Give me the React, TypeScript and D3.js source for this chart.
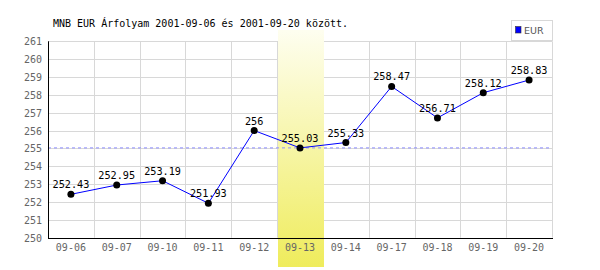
import React from "react";
import * as d3 from "d3";

const categories = ["09-06", "09-07", "09-10", "09-11", "09-12", "09-13", "09-14", "09-17", "09-18", "09-19", "09-20"];
const values = [252.43, 252.95, 253.19, 251.93, 256, 255.03, 255.33, 258.47, 256.71, 258.12, 258.83];
const labels = ["252.43", "252.95", "253.19", "251.93", "256", "255.03", "255.33", "258.47", "256.71", "258.12", "258.83"];
const yTicks = [250, 251, 252, 253, 254, 255, 256, 257, 258, 259, 260, 261];
const highlightIndex = 5;
const referenceValue = 255.03;
const title = "MNB EUR Árfolyam 2001-09-06 és 2001-09-20 között.";
const seriesName = "EUR";

export default function App() {
  const W = 600, H = 270;
  const left = 48, right = 552, top = 41.3, bottom = 237.7;
  const x = d3.scaleBand<string>().domain(categories).range([left, right]);
  const y = d3.scaleLinear().domain([250, 261]).range([bottom, top]);
  const cx = (c: string) => (x(c) as number) + x.bandwidth() / 2;
  const line = d3.line<number>().x((_, i) => cx(categories[i])).y((v) => y(v));
  const mono = "'DejaVu Sans Mono', monospace";
  const hx = x(categories[highlightIndex]) as number;

  return (
    <svg width={W} height={H} style={{ position: "absolute", left: 0, top: 0, background: "#fff" }}>
      <defs>
        <linearGradient id="hl" x1="0" y1="0" x2="0" y2="1">
          <stop offset="0" stopColor="#fefef0" />
          <stop offset="1" stopColor="#efec5c" />
        </linearGradient>
      </defs>
      <rect x={0} y={0} width={W} height={H} fill="#fff" />
      {/* grid */}
      {yTicks.map((t) => (
        <line key={"gy" + t} x1={left} x2={right} y1={Math.round(y(t)) + 0.5} y2={Math.round(y(t)) + 0.5} stroke="#d8d8d8" />
      ))}
      {categories.map((c) => (
        <line key={"gx" + c} x1={Math.round(x(c) as number) + 0.5} x2={Math.round(x(c) as number) + 0.5} y1={top} y2={bottom} stroke="#d8d8d8" />
      ))}
      <line x1={right + 0.5} x2={right + 0.5} y1={top} y2={bottom} stroke="#d8d8d8" />
      {/* highlight band */}
      <rect x={Math.round(hx) + 1} y={30} width={Math.round(x.bandwidth())} height={237} fill="url(#hl)" />
      {/* reference dashed */}
      <line x1={left} x2={right} y1={y(referenceValue)} y2={y(referenceValue)} stroke="#8c8cff" strokeDasharray="3,3" />
      {/* axes */}
      <line x1={left + 0.5} x2={left + 0.5} y1={top} y2={bottom + 1} stroke="#000" />
      <line x1={left} x2={right + 1} y1={Math.round(bottom) + 0.5} y2={Math.round(bottom) + 0.5} stroke="#000" />
      {/* y labels */}
      {yTicks.map((t) => (
        <text key={"yl" + t} x={42} y={y(t) + 4} textAnchor="end" fontFamily={mono} fontSize={10} fill="#666">{t}</text>
      ))}
      {/* x labels */}
      {categories.map((c) => (
        <text key={"xl" + c} x={cx(c)} y={251} textAnchor="middle" fontFamily={mono} fontSize={10} fill="#666">{c}</text>
      ))}
      {/* series */}
      <path d={line(values) as string} fill="none" stroke="#0000ff" strokeWidth={1} />
      {values.map((v, i) => (
        <circle key={"p" + i} cx={cx(categories[i])} cy={y(v)} r={3.5} fill="#000" />
      ))}
      {values.map((v, i) => (
        <text key={"dl" + i} x={cx(categories[i])} y={y(v) - 6} textAnchor="middle" fontFamily={mono} fontSize={10.2} fill="#000">{labels[i]}</text>
      ))}
      {/* title */}
      <text x={53} y={27} fontFamily={mono} fontSize={10} fill="#000">{title}</text>
      {/* legend */}
      <rect x={511.5} y={20.5} width={41} height={20} fill="#fff" stroke="#d8d8d8" />
      <rect x={515.5} y={26.5} width={5.5} height={6.5} fill="#0000ff" stroke="#333" strokeWidth={0.6} />
      <text x={524} y={34} fontFamily="'DejaVu Sans', sans-serif" fontSize={9.5} fill="#555">{seriesName}</text>
    </svg>
  );
}
